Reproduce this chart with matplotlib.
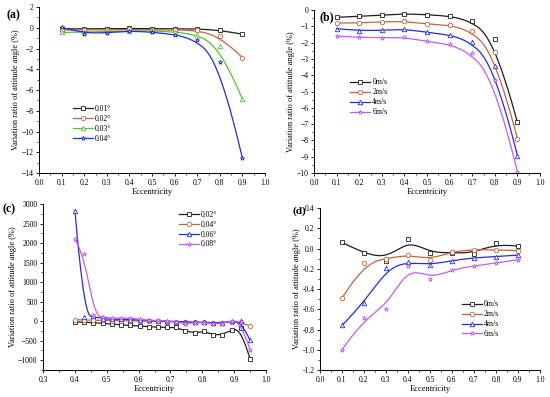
import matplotlib
matplotlib.use("Agg")
import matplotlib.pyplot as plt
import numpy as np
from matplotlib.ticker import MultipleLocator

plt.rcParams['font.family'] = ['Liberation Serif', 'DejaVu Serif']
plt.rcParams['mathtext.fontset'] = 'stix'

# ---- data ----
ecc = [0.1, 0.2, 0.3, 0.4, 0.5, 0.6, 0.7, 0.8, 0.9]

# (a) different angles
a_labels = ['0.01°', '0.02°', '0.03°', '0.04°']
a_001 = [-0.1, -0.1, -0.1, -0.05, -0.1, -0.1, -0.1, -0.23, -0.61]
a_002 = [-0.2, -0.2, -0.2, -0.15, -0.2, -0.2, -0.25, -0.77, -2.87]
a_003 = [-0.45, -0.4, -0.35, -0.3, -0.3, -0.4, -0.65, -1.74, -6.87]
a_004 = [0.03, -0.55, -0.48, -0.3, -0.42, -0.65, -1.16, -3.26, -12.6]

# (b) different speeds
b_labels = ['0m/s', '2m/s', '4m/s', '6m/s']
b_0 = [-0.45, -0.39, -0.31, -0.23, -0.29, -0.37, -0.68, -1.78, -6.9]
b_2 = [-0.8, -0.8, -0.72, -0.7, -0.86, -0.92, -1.29, -2.6, -7.9]
b_4 = [-1.15, -1.27, -1.25, -1.17, -1.37, -1.52, -1.95, -3.44, -8.93]
b_6 = [-1.6, -1.68, -1.7, -1.68, -1.93, -2.11, -2.66, -4.3, -9.94]

# (c) larger angles
c_ecc = [0.400, 0.429, 0.458, 0.487, 0.516, 0.545, 0.574, 0.603, 0.632, 0.661,
         0.690, 0.718, 0.747, 0.776, 0.805, 0.834, 0.863, 0.892, 0.921, 0.950]
c_labels = ['0.02°', '0.04°', '0.06°', '0.08°']
c_002 = [-15, -25, -40, -50, -75, -95, -110, -125, -140, -155,
         -160, -160, -250, -300, -255, -350, -350, -215, -180, -975]
c_004 = [40, 30, 25, 20, 15, 15, 10, 5, 0, -5,
         -10, -15, -20, -25, -30, -40, -35, -10, -20, -130]
c_006 = [2830, 110, 130, 60, 50, 50, 40, 30, 20, 10,
         0, -10, -20, -25, -30, -40, -40, 0, 10, -490]
c_008 = [2100, 1720, 160, 100, 80, 80, 80, 50, 20, 20,
         10, -30, -60, -40, -40, -60, -60, 10, -20, -735]

# (d) speeds, other case
d_labels = ['0m/s', '2m/s', '4m/s', '6m/s']
d_0 = [0.06, -0.046, -0.12, 0.09, -0.043, -0.04, -0.05, 0.05, 0.023]
d_2 = [-0.49, -0.145, -0.1, -0.06, -0.11, -0.03, -0.01, -0.013, -0.02]
d_4 = [-0.76, -0.54, -0.19, -0.135, -0.16, -0.12, -0.09, -0.08, -0.065]
d_6 = [-1.0, -0.69, -0.6, -0.17, -0.3, -0.21, -0.17, -0.145, -0.11]

colors = ['#1e1e1e', '#c4643e', '#52c232', '#2a2ad6']
colors_v = ['#1e1e1e', '#c4643e', '#2a2ad6', '#c25cf6']
markers = ['s', 'o', '^', '*']


def bspline(xs, ys, deg=3, num=300):
    # clamped uniform B-spline with the data as control points (Origin style)
    P = np.column_stack([xs, ys]).astype(float)
    n = len(P)
    knots = np.concatenate([np.zeros(deg), np.arange(n - deg + 1),
                            np.full(deg, n - deg)]).astype(float)
    t = np.linspace(0, n - deg, num)
    N = np.zeros((num, len(knots) - 1))
    for i in range(len(knots) - 1):
        N[:, i] = (t >= knots[i]) & (t < knots[i + 1])
    last = np.where(knots[:-1] < knots[1:])[0][-1]
    N[t == knots[-1], :] = 0
    N[t == knots[-1], last] = 1
    for d in range(1, deg + 1):
        Nn = np.zeros((num, len(knots) - 1 - d))
        for i in range(len(knots) - 1 - d):
            a = knots[i + d] - knots[i]
            b = knots[i + d + 1] - knots[i + 1]
            term = np.zeros(num)
            if a > 0:
                term += (t - knots[i]) / a * N[:, i]
            if b > 0:
                term += (knots[i + d + 1] - t) / b * N[:, i + 1]
            Nn[:, i] = term
        N = Nn
    curve = N @ P
    return curve[:, 0], curve[:, 1]


def draw(ax, x, series, labels, cols):
    for ys, lab, c, m in zip(series, labels, cols, markers):
        cx, cy = bspline(x, ys)
        ax.plot(cx, cy, color=c, lw=0.9)
        ax.plot(x, ys, ls='none', marker=m, ms=3.2, mfc='white', mec=c, mew=0.6)
        ax.plot([], [], color=c, lw=0.9, marker=m, ms=3.2, mfc='white',
                mec=c, mew=0.6, label=lab)


def style(ax, xlim, ylim, xmaj, xmin, ymaj, ymin):
    ax.set_xlim(*xlim)
    ax.set_ylim(*ylim)
    ax.xaxis.set_major_locator(MultipleLocator(xmaj))
    ax.xaxis.set_minor_locator(MultipleLocator(xmin))
    ax.yaxis.set_major_locator(MultipleLocator(ymaj))
    ax.yaxis.set_minor_locator(MultipleLocator(ymin))
    ax.spines['top'].set_visible(False)
    ax.spines['right'].set_visible(False)
    for s in ['left', 'bottom']:
        ax.spines[s].set_linewidth(0.7)
    ax.tick_params(which='major', length=2.5, width=0.6, labelsize=5.5, pad=1.5)
    ax.tick_params(which='minor', length=1.3, width=0.5)
    ax.set_xlabel('Eccentricity', fontsize=6, labelpad=1)
    ax.set_ylabel('Variation ratio of attitude angle (%)', fontsize=6, labelpad=1)


def legend(ax, x, y):
    ax.legend(loc='upper left', bbox_to_anchor=(x, y), frameon=False,
              fontsize=5.5, handlelength=2.6, handletextpad=0.3,
              labelspacing=0.25, borderaxespad=0, borderpad=0)


fig = plt.figure(figsize=(5.5, 3.97), dpi=100)

ax_a = fig.add_axes([0.0709, 0.5642, 0.411, 0.418])
draw(ax_a, ecc, [a_001, a_002, a_003, a_004], a_labels, colors)
style(ax_a, (0, 1.0), (-14, 2), 0.1, 0.05, 2, 1)
ax_a.xaxis.set_major_formatter(plt.FuncFormatter(lambda v, p: f'{v:.1f}'))
legend(ax_a, 0.15, 0.41)
fig.text(0.011, 0.955, '(a)', fontsize=8.5, fontweight='bold')

ax_b = fig.add_axes([0.5709, 0.5642, 0.411, 0.4106])
draw(ax_b, ecc, [b_0, b_2, b_4, b_6], b_labels, colors_v)
style(ax_b, (0, 1.0), (-10, 0), 0.1, 0.05, 1, 0.5)
ax_b.xaxis.set_major_formatter(plt.FuncFormatter(lambda v, p: f'{v:.1f}'))
legend(ax_b, 0.16, 0.58)
fig.text(0.58, 0.95, '(b)', fontsize=8.5, fontweight='bold')

ax_c = fig.add_axes([0.0782, 0.068, 0.4055, 0.418])
draw(ax_c, c_ecc, [c_002, c_004, c_006, c_008], c_labels, colors_v)
style(ax_c, (0.3, 1.0), (-1250, 3000), 0.1, 0.05, 500, 250)
ax_c.xaxis.set_major_formatter(plt.FuncFormatter(lambda v, p: f'{v:.1f}'))
legend(ax_c, 0.61, 0.96)
fig.text(0.005, 0.465, '(c)', fontsize=8.5, fontweight='bold')

ax_d = fig.add_axes([0.5818, 0.068, 0.40, 0.408])
draw(ax_d, ecc, [d_0, d_2, d_4, d_6], d_labels, colors_v)
style(ax_d, (0, 1.0), (-1.2, 0.4), 0.1, 0.05, 0.2, 0.1)
ax_d.xaxis.set_major_formatter(plt.FuncFormatter(lambda v, p: f'{v:.1f}'))
ax_d.yaxis.set_major_formatter(plt.FuncFormatter(lambda v, p: f'{v:.1f}'))
legend(ax_d, 0.645, 0.43)
fig.text(0.532, 0.462, '(d)', fontsize=8, fontweight='bold')

fig.savefig('out.png', dpi=100)
